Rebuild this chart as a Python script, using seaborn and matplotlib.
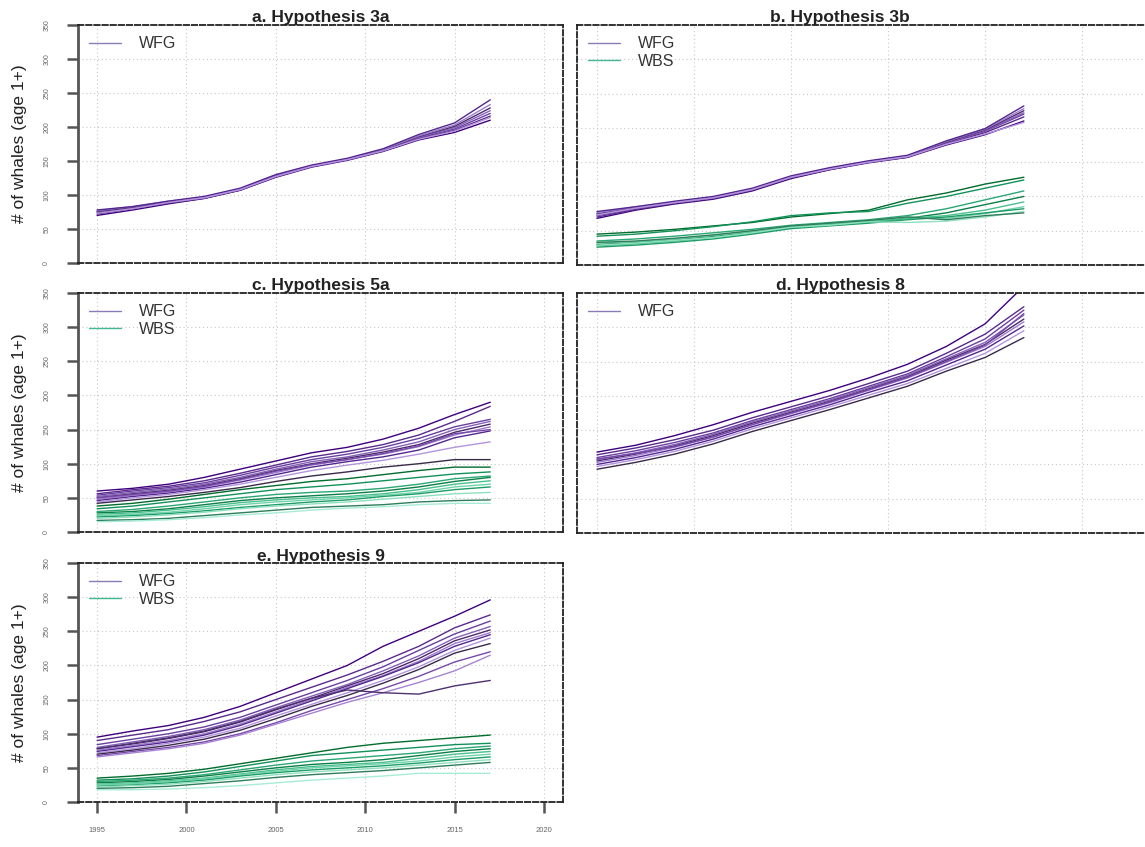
import matplotlib
matplotlib.use("Agg")
import matplotlib.pyplot as plt
import seaborn as sns
import pandas as pd
from matplotlib.lines import Line2D

# ---------------- data ----------------
years = [1995, 1997, 1999, 2001, 2003, 2005, 2007, 2009, 2011, 2013, 2015, 2017]
x_ticks = [1995, 2000, 2005, 2010, 2015, 2020]
y_ticks = [0, 50, 100, 150, 200, 250, 300, 350]
titles = ["a. Hypothesis 3a", "b. Hypothesis 3b", "c. Hypothesis 5a",
          "d. Hypothesis 8", "e. Hypothesis 9"]
series_names = ["WFG", "WBS"]
y_label = "# of whales (age 1+)"

a_wfg = [
    [70, 78, 87, 95, 107, 126, 141, 151, 164, 181, 192, 210],
    [72, 80, 88, 95, 107, 127, 142, 152, 165, 183, 195, 216],
    [74, 81, 89, 96, 108, 128, 142, 152, 165, 184, 197, 220],
    [75, 82, 90, 96, 108, 128, 143, 153, 166, 185, 199, 224],
    [76, 82, 90, 97, 109, 129, 143, 153, 166, 186, 201, 228],
    [77, 83, 91, 97, 109, 129, 143, 153, 167, 187, 203, 233],
    [78, 83, 91, 98, 110, 130, 144, 154, 168, 189, 206, 240],
    [73, 80, 89, 96, 108, 127, 142, 152, 165, 182, 194, 214],
]

b_wfg = [
    [68, 80, 89, 96, 108, 126, 139, 149, 157, 175, 190, 210],
    [70, 81, 90, 97, 109, 127, 139, 150, 157, 177, 193, 216],
    [72, 82, 91, 98, 110, 128, 140, 150, 158, 178, 195, 220],
    [74, 83, 91, 98, 110, 128, 140, 150, 158, 178, 196, 222],
    [75, 84, 92, 99, 111, 129, 141, 151, 159, 179, 197, 225],
    [76, 85, 92, 99, 111, 129, 141, 151, 159, 180, 198, 228],
    [78, 85, 93, 100, 112, 130, 142, 152, 160, 181, 199, 232],
    [73, 83, 91, 98, 110, 128, 140, 150, 158, 176, 191, 208],
]
b_wbs = [
    [45, 48, 52, 57, 62, 70, 75, 80, 95, 105, 118, 128],
    [42, 45, 50, 56, 63, 72, 76, 78, 90, 100, 112, 124],
    [35, 38, 42, 47, 52, 58, 62, 66, 72, 82, 95, 108],
    [30, 33, 37, 42, 48, 55, 59, 63, 68, 76, 88, 100],
    [28, 31, 35, 40, 46, 54, 58, 62, 68, 72, 80, 92],
    [32, 34, 38, 43, 49, 56, 60, 64, 70, 68, 75, 85],
    [26, 29, 33, 38, 45, 53, 57, 61, 66, 70, 76, 82],
    [29, 32, 36, 40, 47, 55, 58, 63, 62, 64, 70, 78],
    [33, 35, 39, 44, 50, 57, 61, 65, 70, 66, 72, 76],
]

c_wfg = [
    [60, 64, 70, 80, 92, 104, 116, 124, 136, 152, 172, 190],
    [56, 62, 67, 75, 86, 98, 110, 118, 128, 142, 162, 184],
    [54, 60, 65, 72, 83, 95, 106, 114, 124, 137, 154, 165],
    [52, 58, 63, 70, 80, 92, 103, 110, 120, 132, 150, 162],
    [50, 56, 61, 68, 78, 90, 100, 108, 117, 128, 146, 158],
    [48, 54, 59, 66, 76, 87, 98, 106, 114, 125, 142, 154],
    [46, 52, 57, 64, 73, 84, 95, 103, 110, 120, 138, 148],
    [44, 50, 55, 62, 70, 80, 90, 98, 105, 114, 124, 132],
    [42, 47, 52, 58, 65, 74, 82, 88, 95, 100, 106, 106],
    [50, 55, 60, 67, 77, 89, 99, 106, 115, 126, 144, 150],
]
c_wbs = [
    [38, 42, 48, 55, 62, 68, 74, 78, 84, 90, 95, 95],
    [34, 38, 44, 50, 56, 62, 66, 70, 75, 80, 85, 88],
    [30, 33, 38, 44, 50, 55, 58, 60, 64, 70, 78, 82],
    [28, 30, 34, 40, 46, 50, 53, 56, 60, 66, 74, 80],
    [26, 28, 32, 37, 43, 47, 50, 52, 56, 62, 70, 75],
    [24, 26, 29, 34, 40, 44, 47, 50, 54, 58, 66, 70],
    [22, 24, 27, 31, 36, 40, 44, 47, 52, 56, 62, 66],
    [20, 22, 25, 29, 34, 38, 41, 44, 48, 52, 56, 58],
    [17, 18, 20, 24, 28, 32, 36, 38, 40, 44, 46, 47],
    [15, 16, 18, 21, 25, 28, 32, 35, 37, 40, 42, 42],
]

d_wfg = [
    [118, 128, 142, 158, 176, 192, 208, 226, 246, 272, 305, 360],
    [114, 124, 136, 150, 168, 184, 200, 218, 236, 262, 290, 330],
    [110, 120, 132, 146, 164, 180, 196, 214, 232, 257, 283, 325],
    [107, 117, 129, 144, 162, 178, 194, 212, 230, 254, 278, 318],
    [105, 115, 127, 142, 160, 176, 192, 210, 228, 252, 275, 312],
    [103, 113, 125, 140, 158, 174, 190, 208, 226, 249, 272, 308],
    [100, 110, 122, 137, 155, 171, 187, 205, 222, 245, 268, 302],
    [97, 107, 119, 134, 152, 168, 184, 201, 218, 240, 262, 295],
    [93, 103, 115, 130, 148, 164, 180, 197, 214, 236, 256, 285],
    [108, 116, 126, 140, 158, 175, 191, 209, 227, 250, 274, 320],
]

e_wfg = [
    [95, 104, 112, 124, 140, 160, 180, 200, 228, 250, 272, 296],
    [90, 98, 106, 118, 132, 150, 168, 186, 206, 228, 255, 274],
    [84, 92, 100, 110, 124, 142, 160, 178, 198, 222, 246, 265],
    [80, 88, 96, 106, 120, 138, 155, 172, 192, 214, 240, 257],
    [78, 85, 93, 103, 117, 135, 152, 170, 188, 210, 236, 252],
    [76, 83, 90, 100, 114, 132, 150, 168, 185, 206, 232, 248],
    [74, 81, 88, 98, 112, 130, 148, 166, 184, 204, 228, 245],
    [72, 78, 86, 95, 108, 126, 143, 160, 178, 198, 222, 240],
    [70, 76, 83, 92, 105, 122, 140, 156, 174, 194, 218, 232],
    [68, 74, 80, 88, 100, 116, 134, 150, 166, 184, 205, 220],
    [66, 72, 78, 86, 98, 114, 130, 146, 160, 175, 192, 215],
    [78, 86, 94, 104, 118, 136, 152, 164, 160, 158, 170, 178],
]
e_wbs = [
    [35, 38, 42, 48, 56, 64, 72, 80, 86, 90, 94, 98],
    [32, 34, 38, 44, 52, 60, 68, 72, 76, 80, 84, 86],
    [30, 32, 35, 40, 47, 54, 60, 64, 68, 72, 78, 82],
    [28, 30, 33, 38, 44, 50, 55, 58, 62, 68, 74, 78],
    [26, 28, 31, 35, 41, 47, 52, 55, 58, 64, 70, 74],
    [25, 27, 30, 34, 40, 45, 50, 53, 56, 60, 66, 70],
    [23, 25, 28, 32, 38, 43, 47, 50, 53, 57, 62, 66],
    [22, 24, 26, 30, 35, 40, 44, 47, 50, 54, 58, 62],
    [20, 21, 23, 27, 31, 36, 40, 43, 46, 50, 54, 58],
    [18, 18, 19, 21, 24, 28, 32, 35, 38, 42, 42, 42],
]

# ---------------- styling ----------------
purples = ["#3f007d", "#5a2a8c", "#6a3fa0", "#8560b8", "#4b2a6b", "#9c7ccc",
           "#54278f", "#b394dd", "#3a2a4a", "#7848a8", "#a684d4", "#4e3070"]
greens = ["#006d2c", "#12915a", "#2aa774", "#0b7f45", "#49bf8e", "#6fd3ab",
          "#1d9d66", "#8fe0c0", "#2e7d5b", "#a8ecd8"]
legend_cols = {"WFG": "#8a7cb8", "WBS": "#44b890"}

sns.set_theme(style="white")
plt.rcParams["font.family"] = ["Liberation Sans", "DejaVu Sans"]

W, H = 1145, 847
fig = plt.figure(figsize=(W / 100, H / 100), dpi=100)


def px_axes(left, top, right, bottom):
    return fig.add_axes([left / W, 1 - bottom / H, (right - left) / W, (bottom - top) / H])


def long_df(trajs):
    rows = []
    for i, tr in enumerate(trajs):
        for yr, v in zip(years, tr):
            rows.append({"year": yr, "value": v, "sim": i})
    return pd.DataFrame(rows)


panels = [
    (titles[0], [("WFG", a_wfg)], (78, 25, 563, 263), "left", False),
    (titles[1], [("WFG", b_wfg), ("WBS", b_wbs)], (577, 25, 1150, 265), "right", False),
    (titles[2], [("WFG", c_wfg), ("WBS", c_wbs)], (78, 293, 563, 532), "left", False),
    (titles[3], [("WFG", d_wfg)], (577, 293, 1150, 533), "right", False),
    (titles[4], [("WFG", e_wfg), ("WBS", e_wbs)], (78, 563, 563, 802), "left", True),
]

for title, groups, box, col, show_x in panels:
    ax = px_axes(*box)
    for name, trajs in groups:
        cols = purples if name == "WFG" else greens
        pal = {i: cols[i % len(cols)] for i in range(len(trajs))}
        sns.lineplot(data=long_df(trajs), x="year", y="value", hue="sim",
                     units="sim", estimator=None, palette=pal, lw=1.0,
                     legend=False, ax=ax)
    if col == "left":
        ax.set_xlim(1993.93, 2021.07)
        title_x = 0.5
    else:
        ax.set_xlim(1993.97, 2023.5)
        title_x = (840 - 577) / (1150 - 577)
    ax.set_ylim(0, 350)
    ax.set_xlabel("")
    ax.set_ylabel("")

    # grid
    for xv in x_ticks:
        ax.axvline(xv, color="#c8c8c8", lw=0.8, ls=(0, (1, 2.5)), zorder=0)
    for yv in y_ticks[1:-1]:
        ax.axhline(yv, color="#c8c8c8", lw=0.8, ls=(0, (1, 2.5)), zorder=0)

    # dashed box
    for sp in ax.spines.values():
        sp.set_visible(True)
        sp.set_linestyle((0, (3, 1.5)))
        sp.set_linewidth(1.3)
        sp.set_color("#222222")

    ax.set_xticks(x_ticks)
    ax.set_yticks(y_ticks)
    if col == "left":
        ax.spines["left"].set_linestyle("-")
        ax.spines["left"].set_linewidth(2.0)
        ax.spines["left"].set_color("#555555")
        ax.tick_params(axis="y", direction="out", length=8, width=1.8,
                       color="#555555", labelsize=5, labelcolor="#666666",
                       pad=12, left=True, labelleft=True)
        for lbl in ax.get_yticklabels():
            lbl.set_rotation(90)
            lbl.set_va("center")
        ax.set_ylabel(y_label, fontsize=12.5, color="#222222")
        ax.yaxis.set_label_coords(-0.105, 0.5)
    else:
        ax.tick_params(axis="y", left=False, labelleft=False)
    if show_x:
        ax.tick_params(axis="x", direction="out", length=8, width=1.8,
                       color="#555555", labelsize=5.5, labelcolor="#666666",
                       pad=10, bottom=True, labelbottom=True)
    else:
        ax.tick_params(axis="x", bottom=False, labelbottom=False)

    ax.set_title(title, fontsize=12.5, fontweight="bold", color="#222222",
                 x=title_x, pad=1.5)

    handles = [Line2D([], [], color=legend_cols[n], lw=1.0) for n, _ in groups]
    labels = [n for n, _ in groups]
    leg = ax.legend(handles, labels, loc="upper left", frameon=False,
                    fontsize=11.5, handlelength=2.0, handletextpad=1.1,
                    labelspacing=0.15, borderaxespad=0.3)
    for t in leg.get_texts():
        t.set_color("#333333")

fig.savefig("out.png", dpi=100, facecolor="white")
